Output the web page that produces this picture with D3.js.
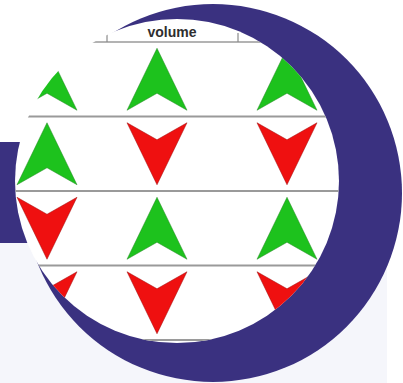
<!DOCTYPE html>
<html>
<head>
<meta charset="utf-8">
<script src="https://cdn.jsdelivr.net/npm/d3@7"></script>
<style>
  body { margin: 0; background: #fff; }
  svg { display: block; }
</style>
</head>
<body>
<svg id="chart" width="403" height="383"></svg>
<script>
// table content: one column header is readable, 4 rows of up/down arrows
var columns = ["c1", "volume", "c3"];
var headers = ["", "volume", ""];
var rows = ["r1", "r2", "r3", "r4"];
var row1 = ["up", "up", "up"];
var row2 = ["up", "down", "down"];
var row3 = ["down", "up", "up"];
var row4 = ["down", "down", "down"];

var W = 403, H = 383;
var svg = d3.select("#chart");

// backdrop blocks
svg.append("rect").attr("x", 0).attr("y", 242).attr("width", 387).attr("height", H - 242).attr("fill", "#f5f6fb");
svg.append("rect").attr("x", 0).attr("y", 142).attr("width", 120).attr("height", 101).attr("fill", "#3a3180");
svg.append("circle").attr("cx", 213).attr("cy", 193).attr("r", 189).attr("fill", "#3a3180");

// white lens holding the table
var lens = {cx: 177, cy: 181, r: 162};
svg.append("clipPath").attr("id", "lens")
	.append("circle").attr("cx", lens.cx).attr("cy", lens.cy).attr("r", lens.r);
svg.append("circle").attr("cx", lens.cx).attr("cy", lens.cy).attr("r", lens.r).attr("fill", "#fff");

var g = svg.append("g").attr("clip-path", "url(#lens)");

// photo is a bit skewed, so columns are not evenly spaced
var x = d3.scaleOrdinal().domain(columns).range([47, 157, 287]);
var y = d3.scaleBand().domain(rows).range([42, 340]).paddingInner(0).paddingOuter(0);

// header
g.append("line").attr("x1", 0).attr("x2", W).attr("y1", y.range()[0]).attr("y2", y.range()[0])
	.attr("stroke", "#9a9a9a").attr("stroke-width", 1.5);
[107, 238].forEach(function(xx){
	g.append("line").attr("x1", xx).attr("x2", xx).attr("y1", 33).attr("y2", 42)
		.attr("stroke", "#8a8a8a").attr("stroke-width", 1.2);
});
g.selectAll("text.head")
	.data(columns)
	.enter().append("text")
	.attr("class", "head")
	.attr("x", function(d){ return d == "volume" ? 172 : x(d); })
	.attr("y", 37)
	.attr("text-anchor", "middle")
	.attr("font-family", "Liberation Sans, Arial, sans-serif")
	.attr("font-weight", "bold")
	.attr("font-size", 14)
	.attr("fill", "#2e2e2e")
	.text(function(d, i){ return headers[i]; });

// row separators
g.selectAll("line.sep")
	.data(rows)
	.enter().append("line")
	.attr("class", "sep")
	.attr("x1", 0).attr("x2", W)
	.attr("y1", function(d){ return y(d) + y.bandwidth(); })
	.attr("y2", function(d){ return y(d) + y.bandwidth(); })
	.attr("stroke", "#9a9a9a").attr("stroke-width", 1.8);

// arrows
var cells = [];
[row1, row2, row3, row4].forEach(function(r, ri){
	r.forEach(function(dir, ci){
		cells.push({row: rows[ri], col: columns[ci], dir: dir});
	});
});

function arrowPath(d){
	var cx = x(d.col), cy = y(d.row) + y.bandwidth() / 2;
	var hw = 30, hh = 31, notch = 17;
	if (d.dir == "up") {
		return "M" + cx + "," + (cy - hh) +
			"L" + (cx + hw) + "," + (cy + hh) +
			"L" + cx + "," + (cy + hh - notch) +
			"L" + (cx - hw) + "," + (cy + hh) + "Z";
	}
	return "M" + cx + "," + (cy + hh) +
		"L" + (cx + hw) + "," + (cy - hh) +
		"L" + cx + "," + (cy - hh + notch) +
		"L" + (cx - hw) + "," + (cy - hh) + "Z";
}

g.selectAll("path.arrow")
	.data(cells)
	.enter().append("path")
	.attr("class", "arrow")
	.attr("d", arrowPath)
	.attr("fill", function(d){ return d.dir == "up" ? "#1dc21d" : "#ef1010"; })
	.attr("stroke", function(d){ return d.dir == "up" ? "#2a8a2a" : "#a01010"; })
	.attr("stroke-opacity", 0.5)
	.attr("stroke-width", 1)
	.attr("stroke-linejoin", "round");
</script>
</body>
</html>
